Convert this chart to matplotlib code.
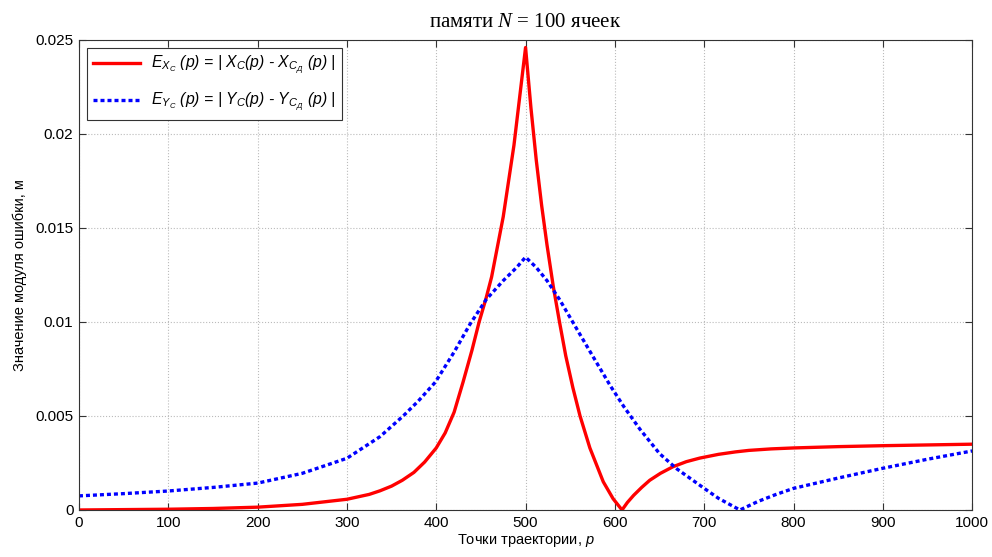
import matplotlib
matplotlib.use("Agg")
import matplotlib.pyplot as plt

# readings taken off the reference curves
p_x = [0, 50, 100, 150, 200, 250, 300, 325, 337, 350, 362, 375, 387, 400, 410, 420, 430, 440,
       448, 456, 462, 475, 487, 500,
       506, 512, 518, 524, 531, 538, 545, 553, 561, 572, 587, 598, 608,
       614, 621, 630, 639, 651, 665, 680, 695, 716, 735, 750, 775, 800, 850, 900, 950, 1000]
err_x = [0.0, 0.00002, 0.00004, 0.00008, 0.00015, 0.0003, 0.00057, 0.00083, 0.00102, 0.00127,
         0.00158, 0.0020, 0.00255, 0.0033, 0.0041, 0.0052, 0.0068, 0.0085,
         0.0100, 0.0113, 0.0124, 0.0156, 0.0194, 0.0246,
         0.0214, 0.0186, 0.0162, 0.0141, 0.0119, 0.0100, 0.0082, 0.0065, 0.0050, 0.0033,
         0.0015, 0.0006, 0.0,
         0.0004, 0.00078, 0.0012, 0.00158, 0.00195, 0.0023, 0.00257, 0.00276, 0.00296,
         0.00309, 0.00317, 0.00325, 0.0033, 0.00337, 0.00342, 0.00346, 0.0035]

p_y = [0, 50, 100, 150, 200, 250, 300, 337, 363, 380, 399, 420, 438, 456, 475, 490, 500,
       512, 524, 538, 554, 575, 595, 610, 628, 650, 669, 700, 716, 740,
       760, 780, 800, 850, 900, 950, 1000]
err_y = [0.00075, 0.00087, 0.00101, 0.0012, 0.00143, 0.00195, 0.00275, 0.0039, 0.0050, 0.0058,
         0.0068, 0.0084, 0.0099, 0.0112, 0.0122, 0.0129, 0.01345,
         0.0129, 0.0122, 0.0112, 0.0099, 0.0082, 0.0066, 0.0055, 0.0043, 0.0030, 0.0022,
         0.00115, 0.00062, 0.0,
         0.00045, 0.00082, 0.00115, 0.0017, 0.00222, 0.0027, 0.00314]

x_ticks = [0, 100, 200, 300, 400, 500, 600, 700, 800, 900, 1000]
y_ticks = [0, 0.005, 0.01, 0.015, 0.02, 0.025]
y_labels = ["0", "0.005", "0.01", "0.015", "0.02", "0.025"]

label_x = r"$\mathsf{E_{X_C}}$ (p) = | $\mathsf{X_C}$(p) - $\mathsf{X_{C_Д}}$ (p) |"
label_y = r"$\mathsf{E_{Y_C}}$ (p) = | $\mathsf{Y_C}$(p) - $\mathsf{Y_{C_Д}}$ (p) |"

plt.rcParams['font.family'] = ['Liberation Sans', 'DejaVu Sans']
plt.rcParams['mathtext.fontset'] = 'custom'
plt.rcParams['mathtext.it'] = 'Liberation Serif:italic'
plt.rcParams['mathtext.rm'] = 'Liberation Sans'
plt.rcParams['mathtext.sf'] = 'Liberation Sans:italic'

fig = plt.figure(figsize=(9.92, 5.57), dpi=100)
ax = fig.add_axes([0.0796, 0.0844, 0.9004, 0.8438])

ax.plot(p_x, err_x, color='red', lw=2.4, label=label_x)
ax.plot(p_y, err_y, color='blue', lw=2.4, dashes=(1.2, 0.9), label=label_y)

ax.set_xlim(0, 1000)
ax.set_ylim(0, 0.025)
ax.set_xticks(x_ticks)
ax.set_yticks(y_ticks)
ax.set_yticklabels(y_labels)
ax.tick_params(direction='in', top=True, right=True, labelsize=11, length=5,
               color='#333333', pad=4)
for s in ax.spines.values():
    s.set_color('#333333')
ax.grid(True, linestyle=':', color='#bbbbbb', lw=0.8)

ax.set_xlabel(r"Точки траектории, $\mathsf{p}$", fontsize=10.5, labelpad=2)
ax.set_ylabel("Значение модуля ошибки, м", fontsize=10.5, labelpad=6)
ax.set_title(r"памяти $N$ = 100 ячеек", fontsize=15, family='Liberation Serif', pad=9)

leg = ax.legend(loc='upper left', prop={'size': 11.3, 'style': 'italic'}, handlelength=3.0,
                fancybox=False, framealpha=1, edgecolor='#333333', borderaxespad=0.5,
                labelspacing=0.85, handletextpad=0.7)
leg.get_frame().set_linewidth(0.8)

fig.savefig("out.png", dpi=100)
